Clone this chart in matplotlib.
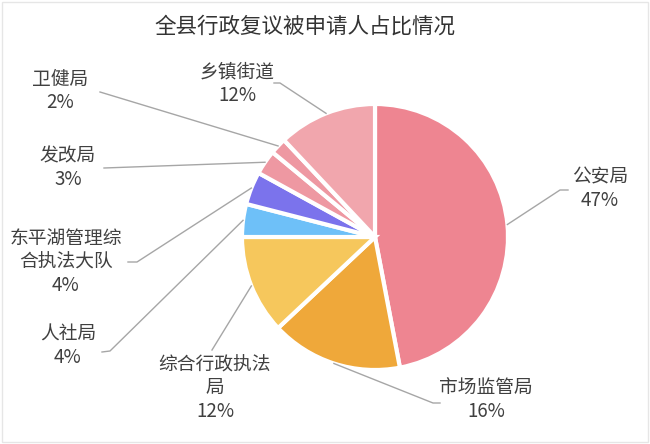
import numpy as np
import matplotlib.pyplot as plt
from matplotlib.patches import Rectangle

plt.rcParams['font.family'] = ['Noto Sans CJK SC', 'DejaVu Sans']

title = '全县行政复议被申请人占比情况'
names = ['公安局', '市场监管局', '综合行政执法\n局', '人社局', '东平湖管理综\n合执法大队',
         '发改局', '卫健局', '乡镇街道']
shares = [47, 16, 12, 4, 4, 3, 2, 12]
colors = ['#EE8591', '#EFA83A', '#F6C75C', '#6EC0F8', '#7B73EC', '#EE98A2', '#EE98A2', '#F1A6AD']

# layout in pixel coords (image y downward): text centre, line elbow, line end
W, H = 650, 444
cx, cy, R = 375, 237, 133
text_pos = [(600, 189), (486, 400), (215, 388), (68, 346), (66, 262), (68, 168), (60, 91), (237, 84)]
elbows = [(560, 190), (433, 403), (212, 350), (110, 351), (137, 262), (104, 168), (100, 92), (280, 83)]
ends = [(568, 190), (440, 403), (212, 350), (102, 352), (128, 262), (104, 168), (100, 92), (274, 83)]

fig = plt.figure(figsize=(W / 100, H / 100), dpi=100)
ax = fig.add_axes([0, 0, 1, 1])

def fy(y):
    return H - y

wedges, _ = ax.pie(shares, colors=colors, startangle=90, counterclock=False,
                   center=(cx, fy(cy)), radius=R,
                   wedgeprops=dict(edgecolor='white', linewidth=3))
ax.set_xlim(0, W)
ax.set_ylim(0, H)
ax.set_aspect('equal')
ax.axis('off')

cum = np.cumsum([0] + shares[:-1])
for i, s in enumerate(shares):
    mid = np.deg2rad((cum[i] + s / 2) / 100 * 360)
    sx = cx + R * np.sin(mid)
    sy = cy - R * np.cos(mid)
    ex, ey = elbows[i]
    tx, ty = ends[i]
    ax.plot([sx, ex, tx], [fy(sy), fy(ey), fy(ty)], color='#A6A6A6', lw=1)
    px, py = text_pos[i]
    ax.text(px, fy(py), f'{names[i]}\n{s}%', ha='center', va='center',
            fontsize=13.5, color='#404040', linespacing=1.15)

ax.text(305, fy(27), title, ha='center', va='center', fontsize=15.5, color='#333333')
ax.add_patch(Rectangle((2, 2), W - 4, H - 4, fill=False, edgecolor='#E6E6E6', lw=1))

fig.savefig('out.png', dpi=100)
